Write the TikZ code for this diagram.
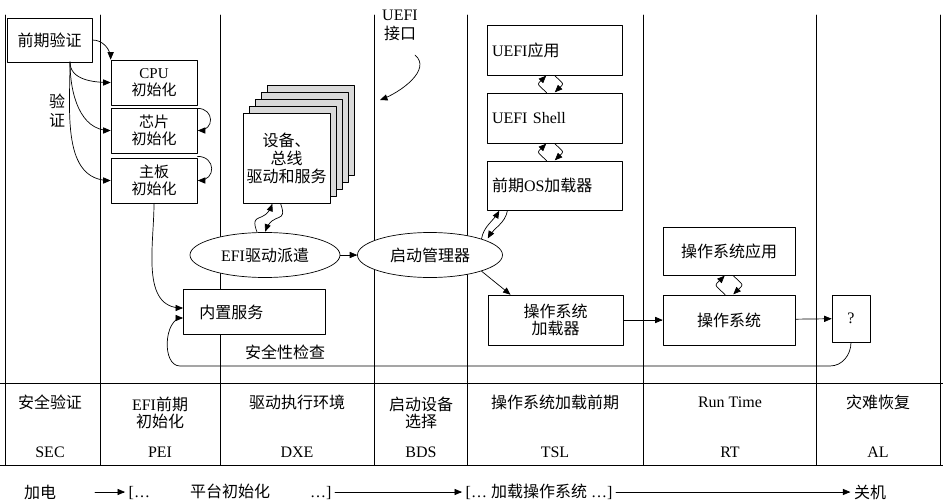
\documentclass[tikz,border=0pt]{standalone}
\usepackage{fontspec}
\setmainfont{Liberation Serif}
\newfontfamily\cjk{Noto Sans CJK SC}
\newcommand{\zh}[1]{{\cjk #1}}
\usetikzlibrary{arrows,shapes.geometric}
\begin{document}
\begin{tikzpicture}[line cap=round,line join=round,>=triangle 45,x=1pt,y=-1pt,
  font=\fontsize{16}{19}\selectfont,line width=0.7pt,
  box/.style={draw,fill=white,inner sep=2pt,align=center},
  oval/.style={draw,ellipse,fill=white,inner sep=1pt},
  lbl/.style={align=center},
  loop/.style={->,shorten >=0.5pt}]
\useasboundingbox (0,0) rectangle (943,500);
% columns
\foreach \x in {5,100,220,374,467,643,816,940}
  \draw (\x,15)-- (\x,465);
\draw (0,383)-- (943,383);
\draw (0,465)-- (943,465);
% SEC / PEI
\node[box,minimum width=85,minimum height=44] (prever) at (49.5,40) {\zh{前期验证}};
\node[box,minimum width=86,minimum height=45,inner sep=0pt,font=\fontsize{15}{17}\selectfont] (cpu) at (154,82.5) {CPU\\\zh{初始化}};
\node[box,minimum width=86,minimum height=45,inner sep=0pt,font=\fontsize{15}{17}\selectfont] (chip) at (154,130.5) {\zh{芯片}\\\zh{初始化}};
\node[box,minimum width=86,minimum height=45,inner sep=0pt,font=\fontsize{15}{17}\selectfont] (board) at (154,180.5) {\zh{主板}\\\zh{初始化}};
\node[lbl] at (57,111) {\zh{验}\\\zh{证}};
\coordinate (vbase) at (70,62);
\draw[->] (prever.east) to[out=0,in=90] (cpu.north west);
\draw[->] (vbase) to[out=-90,in=180] (cpu.west);
\draw[->] (vbase) to[out=-90,in=180] (chip.west);
\draw[->] (vbase) to[out=-90,in=180] (board.west);
\draw[loop] ([yshift=-3pt]cpu.south east) to[out=0,in=0,looseness=2] (chip.east);
\draw[loop] ([yshift=-3pt]chip.south east) to[out=0,in=0,looseness=2] (board.east);
% DXE
\foreach \i in {4,3,2,1}
  \draw[fill=gray!30] (243+6*\i,113-7*\i) rectangle (330+6*\i,203-7*\i);
\node[box,minimum width=87,minimum height=90,inner sep=0pt] (drv) at (286.5,158) {\zh{设备、}\\[-1pt]\zh{总线}\\[-1pt]\zh{驱动和服务}};
\node[oval,minimum width=150,minimum height=45] (efi) at (265,255) {EFI\zh{驱动派遣}};
\node[box,minimum width=142,minimum height=45,anchor=west] (builtin) at (183,312) {\ \zh{内置服务}\hspace{50pt}};
\node at (285,352) {\zh{安全性检查}};
\draw[loop] ([xshift=-8pt]efi.north) to[out=110,in=-110,looseness=1.8] ([xshift=-14pt]drv.south);
\draw[loop] ([xshift=-6pt]drv.south) to[out=-70,in=70,looseness=1.8] (efi.north);
\draw[->] (board.south) to[out=-90,in=180] ([yshift=4pt]builtin.west);
% BDS
\node[lbl] (uefiif) at (400,25) {UEFI\\\zh{接口}};
\coordinate (uefitip) at (380,100);
\draw[->] (415,55) to[out=-40,in=20] (uefitip);
\node[oval,minimum width=145,minimum height=45] (bootmgr) at (430,255) {\zh{启动管理器}};
\draw[->] (efi)-- (bootmgr);
% TSL
\node[box,minimum width=135,minimum height=50,text width=125,align=left] (app) at (554.5,50) {UEFI\zh{应用}};
\node[box,minimum width=135,minimum height=50,text width=125,align=left] (shell) at (554.5,118) {UEFI Shell};
\node[box,minimum width=135,minimum height=49,text width=125,align=left] (preos) at (554.5,185.5) {\zh{前期}OS\zh{加载器}};
\node[box,minimum width=135,minimum height=50,inner sep=0pt] (osld) at (555.5,320) {\zh{操作系统}\\[-2pt]\zh{加载器}};
\foreach \lo/\hi in {shell/app,preos/shell}{
  \draw[loop] ([xshift=-8pt]\lo.north) to[out=135,in=-135,looseness=2.2] ([xshift=-8pt]\hi.south);
  \draw[loop] ([xshift=0pt]\hi.south) to[out=-45,in=45,looseness=2.2] ([xshift=0pt]\lo.north);
}
\draw[loop] (bootmgr.north east) to[out=80,in=-120] ([xshift=-55pt]preos.south);
\draw[loop] ([xshift=-47pt]preos.south) to[out=-100,in=60] ([xshift=6pt]bootmgr.north east);
\draw[->] (bootmgr.south east) -- ([xshift=-45pt]osld.north);
% RT / AL
\node[box,minimum width=132,minimum height=48] (osapp) at (729,251) {\zh{操作系统应用}};
\node[box,minimum width=132,minimum height=50] (os) at (729,320) {\zh{操作系统}};
\node[box,minimum width=38,minimum height=47] (unk) at (851,318.5) {?};
\draw[loop] ([xshift=-4pt]os.north) to[out=135,in=-135,looseness=2.2] ([xshift=-4pt]osapp.south);
\draw[loop] ([xshift=4pt]osapp.south) to[out=-45,in=45,looseness=2.2] ([xshift=4pt]os.north);
\draw[->] (osld)-- (os);
\draw[->] (os)-- (unk);
\draw[->] (unk.south) to[out=-90,in=0] (830,366)-- (180,366) to[out=180,in=180] ([yshift=-6pt]builtin.west);
% phase names
\node[lbl] at (50,402) {\zh{安全验证}};
\node[lbl] at (160,413) {EFI\zh{前期}\\[-2pt]\zh{初始化}};
\node[lbl] at (297,402) {\zh{驱动执行环境}};
\node[lbl] at (421,413) {\zh{启动设备}\\[-2pt]\zh{选择}};
\node[lbl] at (555,402) {\zh{操作系统加载前期}};
\node[lbl] at (730,402) {Run Time};
\node[lbl] at (878,402) {\zh{灾难恢复}};
\foreach \t/\x in {SEC/50,PEI/160,DXE/297,BDS/421,TSL/555,RT/730,AL/878}
  \node at (\x,452) {\t};
% timeline
\node (pwr) at (40,492) {\zh{加电}};
\node[anchor=west] (plat) at (125,492) {[\dots\hspace{40pt}\zh{平台初始化}\hspace{40pt}\dots]};
\node[anchor=west] (load) at (462,492) {[\dots\ \zh{加载操作系统}\ \dots]};
\node (off) at (870,492) {\zh{关机}};
\draw[->] (95,492)-- (plat.west);
\draw[->] (plat.east)-- (load.west);
\draw[->] (load.east)-- (off.west);
\end{tikzpicture}
\end{document}
